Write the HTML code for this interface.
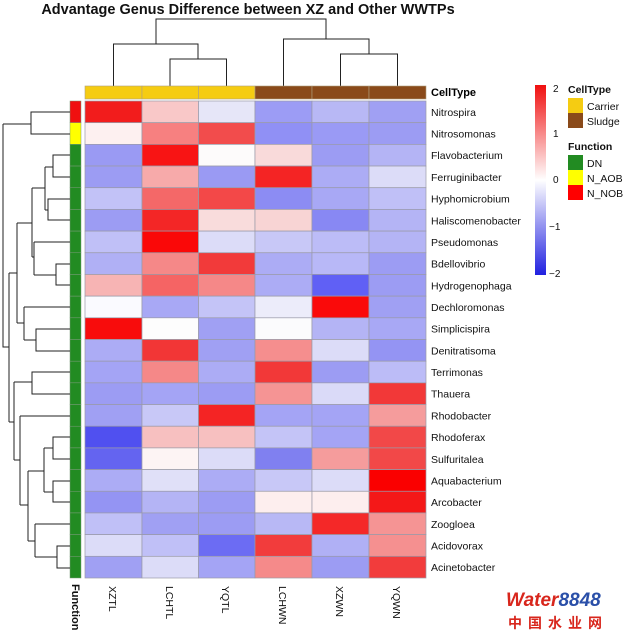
<!DOCTYPE html>
<html><head><meta charset="utf-8"><style>
html,body{margin:0;padding:0;background:#fff;}
svg{display:block;font-family:"Liberation Sans",Arial,sans-serif;}
</style></head><body>
<svg width="635" height="635" viewBox="0 0 635 635" xmlns="http://www.w3.org/2000/svg">
<defs>
<linearGradient id="cb" x1="0" y1="0" x2="0" y2="1">
<stop offset="0" stop-color="#f01010"/>
<stop offset="0.5" stop-color="#ffffff"/>
<stop offset="1" stop-color="#2020e0"/>
</linearGradient>
</defs>
<text x="248" y="14" font-size="14.5" font-weight="bold" text-anchor="middle" fill="#111">Advantage Genus Difference between XZ and Other WWTPs</text>

<!-- top dendrogram -->
<g stroke="#222" stroke-width="1" fill="none">
<path d="M156 44V19H326V39"/>
<path d="M113.5 86V44H198V59"/>
<path d="M170 86V59H226.5V86"/>
<path d="M283.5 86V39H369V54"/>
<path d="M340.5 86V54H397.5V86"/>
</g>

<!-- CellType bar -->
<g stroke="#b0a080" stroke-width="0.6">
<rect x="85" y="86" width="57" height="13" fill="#f5cc12"/>
<rect x="142" y="86" width="56.5" height="13" fill="#f5cc12"/>
<rect x="198.5" y="86" width="56.5" height="13" fill="#f5cc12"/>
<rect x="255" y="86" width="57" height="13" fill="#8a4a1a"/>
<rect x="312" y="86" width="57" height="13" fill="#8a4a1a"/>
<rect x="369" y="86" width="57" height="13" fill="#8a4a1a"/>
</g>
<text x="431" y="96" font-size="11" font-weight="bold">CellType</text>

<g id="heat" stroke="#9a9aa8" stroke-width="0.7"></g>
<g id="func" stroke="#7a9a7a" stroke-width="0.5"></g>
<g id="labels" font-size="10.5" fill="#111"></g>

<!-- left dendrogram -->
<g stroke="#222" stroke-width="1" fill="none">
<path d="M3 124V347H9"/>
<path d="M3 124H31"/>
<path d="M70 112H31V134H70"/>
<path d="M9 273V422"/>
<path d="M9 273H17"/><path d="M9 422H14"/>
<path d="M17 223V323"/><path d="M17 223H32"/><path d="M17 323H24"/>
<path d="M32 188V257"/><path d="M32 188H45"/><path d="M32 257H34"/>
<path d="M45 167V210"/><path d="M45 167H53"/><path d="M45 210H48"/>
<path d="M70 155H53V177H70"/>
<path d="M70 199H48V220H70"/>
<path d="M34 242V275"/><path d="M34 242H70"/><path d="M34 275H56"/>
<path d="M70 264H56V285H70"/>
<path d="M24 307V340"/><path d="M24 307H70"/><path d="M24 340H36"/>
<path d="M70 329H36V351H70"/>
<path d="M14 382V460"/><path d="M14 382H32"/><path d="M14 460H20"/>
<path d="M70 372H32V394H70"/>
<path d="M20 416V505"/><path d="M20 416H70"/><path d="M20 505H28"/>
<path d="M28 471V541"/><path d="M28 471H44"/><path d="M28 541H35"/>
<path d="M44 448V492"/><path d="M44 448H53"/><path d="M44 492H53"/>
<path d="M70 437H53V459H70"/>
<path d="M70 481H53V502H70"/>
<path d="M35 524V557"/><path d="M35 524H70"/><path d="M35 557H57"/>
<path d="M70 546H57V568H70"/>
</g>

<!-- column labels -->
<g font-size="10.5" fill="#111">
<text transform="translate(109,586) rotate(90)">XZTL</text>
<text transform="translate(166,586) rotate(90)">LCHTL</text>
<text transform="translate(222,586) rotate(90)">YQTL</text>
<text transform="translate(279,586) rotate(90)">LCHWN</text>
<text transform="translate(336,586) rotate(90)">XZWN</text>
<text transform="translate(393,586) rotate(90)">YQWN</text>
<text transform="translate(72,584) rotate(90)" font-weight="bold" font-size="11">Function</text>
</g>

<!-- color bar -->
<rect x="535" y="85" width="11" height="190" fill="url(#cb)"/>
<g font-size="10" fill="#111">
<text x="553" y="92">2</text>
<text x="553" y="137">1</text>
<text x="553" y="183">0</text>
<text x="549" y="230">−1</text>
<text x="549" y="277">−2</text>
</g>
<!-- legends -->
<g font-size="10.5" fill="#111">
<text x="568" y="93" font-weight="bold">CellType</text>
<rect x="568" y="98" width="15" height="15" fill="#f5cc12"/><text x="587" y="110">Carrier</text>
<rect x="568" y="113" width="15" height="15" fill="#8a4a1a"/><text x="587" y="125">Sludge</text>
<text x="568" y="150" font-weight="bold">Function</text>
<rect x="568" y="155" width="15" height="15" fill="#228b22"/><text x="587" y="167">DN</text>
<rect x="568" y="170" width="15" height="15" fill="#ffff00"/><text x="587" y="182">N_AOB</text>
<rect x="568" y="185" width="15" height="15" fill="#ff0000"/><text x="587" y="197">N_NOB</text>
</g>
<!-- watermark -->
<text x="506" y="606" font-size="19" font-weight="bold" fill="#d8261c" font-style="italic">Water<tspan fill="#2a4fa8">8848</tspan></text>
<text x="508" y="628" font-size="14" font-weight="bold" fill="#d8261c" font-family="'Noto Sans CJK SC',sans-serif" letter-spacing="6">中国水业网</text>
</svg>
<script>
var names=["Nitrospira","Nitrosomonas","Flavobacterium","Ferruginibacter","Hyphomicrobium","Haliscomenobacter","Pseudomonas","Bdellovibrio","Hydrogenophaga","Dechloromonas","Simplicispira","Denitratisoma","Terrimonas","Thauera","Rhodobacter","Rhodoferax","Sulfuritalea","Aquabacterium","Arcobacter","Zoogloea","Acidovorax","Acinetobacter"];
var M=[
["#f21c1c","#f9c8c8","#e6e6f8","#9c9cf5","#b8b8f5","#a0a0f3"],
["#fdf0f0","#f78080","#f24c4c","#9090f5","#9a9af5","#9c9cf3"],
["#9a9af3","#f81414","#fdfbfb","#f9dada","#9c9cf3","#b4b4f5"],
["#9c9cf3","#f7aaaa","#9a9af3","#f42424","#acacf5","#dcdcf8"],
["#c2c2f7","#f46868","#f34848","#8c8cf3","#a8a8f5","#c0c0f7"],
["#9c9cf3","#f32626","#f9dcdc","#f8d4d4","#8888f3","#b4b4f5"],
["#c0c0f7","#fa0808","#dcdcf8","#c8c8f7","#bcbcf7","#b4b4f5"],
["#b0b0f5","#f58888","#f23a3a","#acacf5","#b8b8f7","#9c9cf3"],
["#f7b4b4","#f56464","#f58888","#acacf5","#6060f5","#9c9cf3"],
["#fafaff","#a8a8f5","#c4c4f7","#ececfa","#fa0a0a","#a0a0f3"],
["#f80c0c","#fdfdfd","#a0a0f3","#fbfbfd","#b4b4f5","#a8a8f5"],
["#acacf5","#f23636","#a0a0f3","#f58e8e","#dcdcf8","#9494f3"],
["#a4a4f5","#f58888","#acacf5","#f23838","#9c9cf3","#bcbcf7"],
["#9c9cf3","#a4a4f5","#9c9cf3","#f59494","#dadaf8","#f23838"],
["#a0a0f3","#c8c8f7","#f42424","#a4a4f5","#a4a4f5","#f59c9c"],
["#5050f0","#f7c0c0","#f7c0c0","#c4c4f7","#a4a4f5","#f24848"],
["#6464f0","#fdf4f4","#dcdcf8","#8080f0","#f59c9c","#f24848"],
["#acacf5","#e0e0f8","#acacf5","#c8c8f7","#dcdcf8","#fa0000"],
["#9494f3","#b4b4f5","#9c9cf3","#fdeeee","#fdeeee","#f41818"],
["#c0c0f7","#a0a0f3","#9c9cf3","#b8b8f5","#f42828","#f59494"],
["#dcdcf8","#c0c0f7","#6c6cf3","#f23c3c","#b0b0f5","#f59090"],
["#a0a0f3","#dcdcf8","#a4a4f5","#f58a8a","#9c9cf3","#f23c3c"]];
var ns="http://www.w3.org/2000/svg";
var xs=[85,142,198.5,255,312,369,426],y0=101,h=(578-101)/22;
var H=document.getElementById("heat"),F=document.getElementById("func"),L=document.getElementById("labels");
function el(t,a,p){var e=document.createElementNS(ns,t);for(var k in a)e.setAttribute(k,a[k]);p.appendChild(e);return e;}
for(var i=0;i<22;i++){
 var y=y0+i*h;
 for(var j=0;j<6;j++) el("rect",{x:xs[j],y:y,width:xs[j+1]-xs[j],height:h,fill:M[i][j]},H);
 el("rect",{x:70,y:y,width:11,height:h,fill:i==0?"#f01010":i==1?"#ffff00":"#228b22"},F);
 var t=el("text",{x:431,y:y+h/2+4},L);t.textContent=names[i];
}
</script>
</body></html>
